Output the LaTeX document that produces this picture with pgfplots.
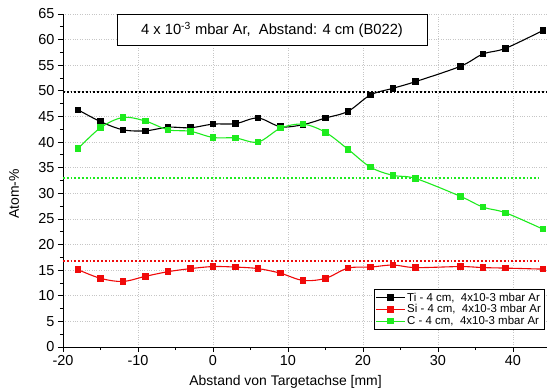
\documentclass[border=0pt]{standalone}
\usepackage{fontspec}
\setmainfont{Liberation Sans}
\usepackage{pgfplots}
\usepackage{pgfplotstable}
\pgfplotsset{compat=1.18}
\definecolor{cgreen}{RGB}{30,235,30}
\definecolor{cred}{RGB}{240,10,10}
\pgfplotstableread{
x Ti Si C
-18 46.3 15.1 38.7
-15 44.0 13.4 42.8
-12 42.4 12.8 44.8
-9 42.2 13.8 44.1
-6 42.9 14.7 42.4
-3 42.8 15.3 42.1
0 43.5 15.7 40.9
3 43.6 15.6 40.8
6 44.7 15.3 40.0
9 43.0 14.4 42.7
12 43.4 13.0 43.5
15 44.7 13.4 41.9
18 46.0 15.4 38.6
21 49.2 15.6 35.1
24 50.5 16.0 33.5
27 51.8 15.5 32.9
33 54.8 15.7 29.4
36 57.2 15.5 27.3
39 58.3 15.4 26.2
44 61.8 15.2 23.0
}\data
\begin{document}
\begin{tikzpicture}
\begin{axis}[
  scale only axis,
  width=483.75bp, height=333bp,
  xmin=-20, xmax=44.5, ymin=0, ymax=65,
  axis x line*=bottom, axis y line*=left,
  axis line style={-, line width=0.9bp},
  xtick={-20,-10,0,10,20,30,40},
  ytick={0,5,...,65},
  minor x tick num=1, minor y tick num=1,
  tick align=outside,
  major tick length=5bp, minor tick length=3bp,
  tick style={line width=0.8bp, black},
  grid=major,
  major grid style={gray!45, dotted, line width=0.6bp},
  tick label style={font=\fontsize{14.5}{15}\selectfont},
  /pgf/number format/assume math mode=true,
  xlabel={Abstand von Targetachse [mm]},
  ylabel={Atom-\%},
  label style={font=\fontsize{14}{15}\selectfont},
  xlabel style={at={(rel axis cs:0.46,0)}, anchor=center, yshift=-35bp},
  ylabel style={at={(rel axis cs:0,0.46)}, anchor=center, rotate=0, yshift=49bp},
  legend style={at={(rel axis cs:0.996,0.051)}, anchor=south east,
    font=\fontsize{11.5}{13}\selectfont, draw=black, line width=0.8bp,
    inner sep=1.5bp, row sep=-2bp, cells={anchor=west}},
  legend cell align=left,
  legend image code/.code={
    \draw[mark repeat=2, mark phase=2] plot coordinates {(0cm,0cm) (0.5cm,0cm) (1.0cm,0cm)};
  },
  clip=false,
]
\addplot[black, line width=1.1bp, smooth, tension=0.55, mark=square*, mark size=2.7bp, mark options={solid}] table[x=x,y=Ti]{\data};
\addlegendentry{Ti - 4 cm,\ \ 4x10-3 mbar Ar}
\addplot[cred, line width=1.1bp, smooth, tension=0.55, mark=square*, mark size=2.7bp, mark options={solid}] table[x=x,y=Si]{\data};
\addlegendentry{Si - 4 cm,\ \ 4x10-3 mbar Ar}
\addplot[cgreen, line width=1.1bp, smooth, tension=0.55, mark=square*, mark size=2.7bp, mark options={solid}] table[x=x,y=C]{\data};
\addlegendentry{C - 4 cm,\ \ 4x10-3 mbar Ar}
\addplot[black, line width=1.9bp, dash pattern=on 1.9bp off 1.9bp, forget plot] coordinates {(-20,49.7) (44.5,49.7)};
\addplot[cgreen, line width=1.9bp, dash pattern=on 1.9bp off 1.9bp, forget plot] coordinates {(-20,33.0) (43.5,33.0)};
\addplot[cred, line width=1.9bp, dash pattern=on 1.9bp off 1.9bp, forget plot] coordinates {(-20,16.8) (43.5,16.8)};
\node[draw=black, line width=0.8bp, fill=white, anchor=north, minimum height=31bp, minimum width=310bp,
  font=\fontsize{14.8}{17}\selectfont] at (rel axis cs:0.432,1) {4 x 10\textsuperscript{-3} mbar Ar,\ \ Abstand: 4 cm (B022)};
\end{axis}
\pgfresetboundingbox
\useasboundingbox (-63bp,-44bp) rectangle (485bp,347bp);
\end{tikzpicture}
\end{document}
